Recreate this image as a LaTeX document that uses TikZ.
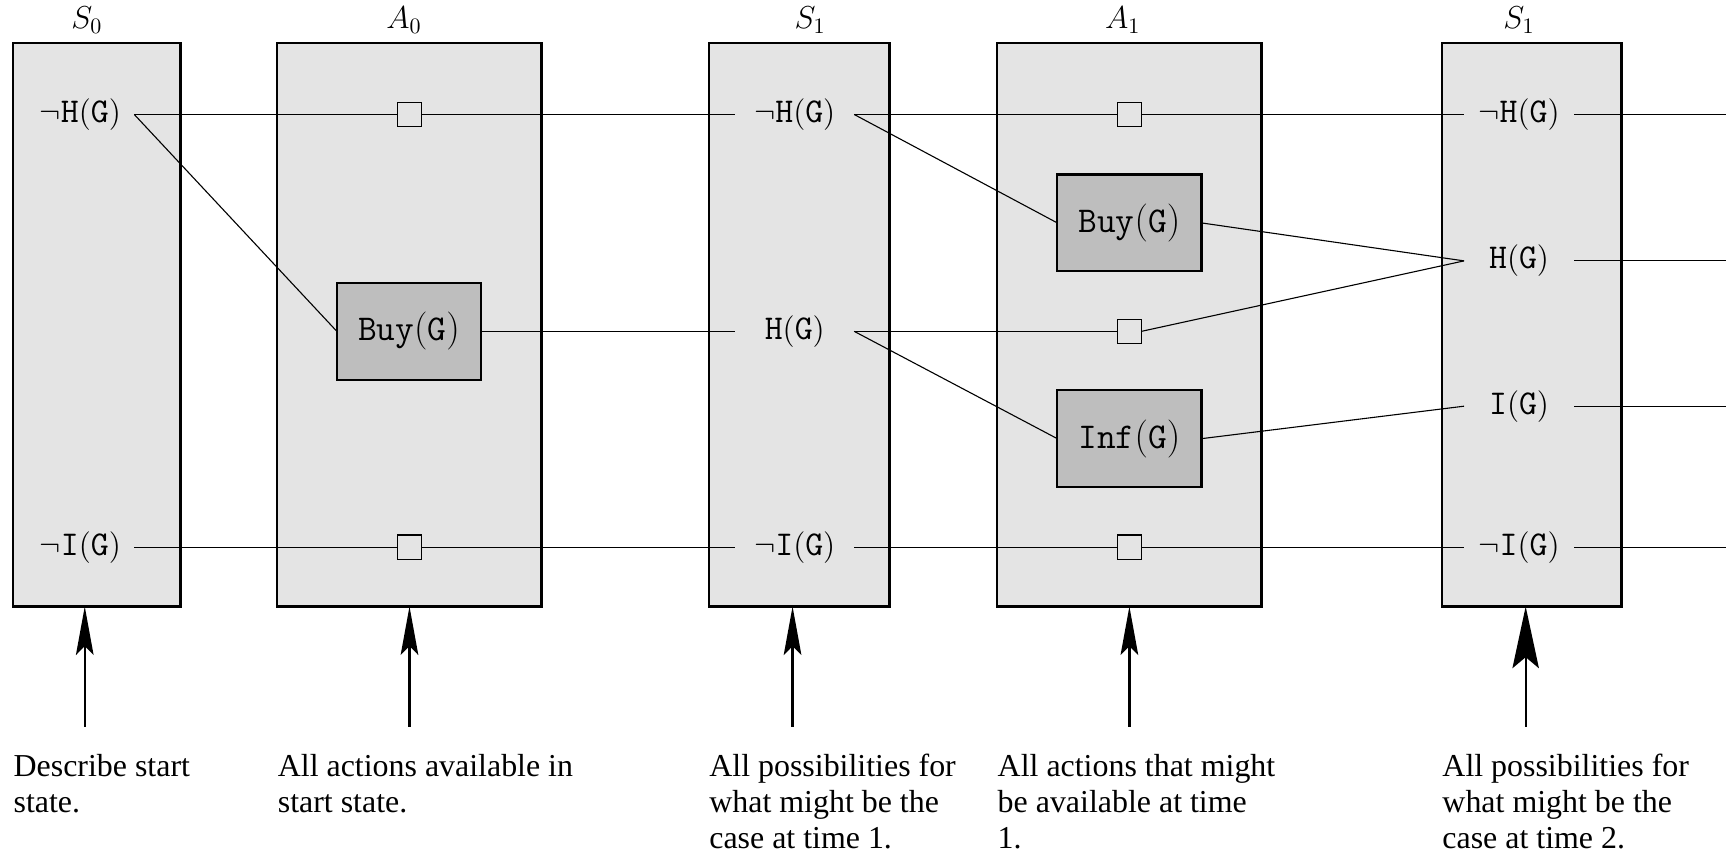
\documentclass[tikz,border=0pt]{standalone}
\usepackage{fontspec}
\setmainfont{Liberation Serif}
\usetikzlibrary{arrows.meta}
\definecolor{panelgray}{gray}{0.894}
\definecolor{actgray}{gray}{0.745}
\newcommand{\proplabfont}{\fontsize{15.8}{18}\selectfont}
\newcommand{\actlabfont}{\fontsize{16.5}{18}\selectfont}
\tikzset{
  panel/.style={draw, line width=1pt, fill=panelgray, inner sep=0pt, outer sep=0pt},
  act/.style={draw, line width=1pt, fill=actgray, minimum width=65.5pt, minimum height=44pt, inner sep=0pt, outer sep=0pt, font=\actlabfont},
  sq/.style={draw, line width=0.5pt, fill=panelgray, minimum size=11pt, inner sep=0pt, outer sep=0pt},
  prop/.style={inner sep=0pt, outer sep=0pt, font=\proplabfont},
  conn/.style={line width=0.5pt},
  hdr/.style={inner sep=0pt, font=\fontsize{14.5}{16}\selectfont},
  captxt/.style={anchor=base west, align=left, inner sep=0pt, font=\fontsize{14.5}{16.5}\selectfont},
  uparrow/.style={line width=1pt, -{Stealth[length=22pt,width=8pt,inset=4pt]}},
  bigarrow/.style={line width=1pt, -{Stealth[length=28pt,width=12pt,inset=5pt]}},
}
\begin{document}
\begin{tikzpicture}[x=0.5pt, y=-0.5pt]
\fill[white] (0,0) rectangle (1568,776);
\useasboundingbox (0,0) rectangle (1568,776);
\coordinate (edge) at (1568,0);

% panels
\node[panel, minimum width=76pt, minimum height=256pt] (P0) at (88,295) {};
\node[panel, minimum width=120pt, minimum height=256pt] (P1) at (372,295) {};
\node[panel, minimum width=82pt, minimum height=256pt] (P2) at (726,295) {};
\node[panel, minimum width=120pt, minimum height=256pt] (P3) at (1026,295) {};
\node[panel, minimum width=81.5pt, minimum height=256pt] (P4) at (1391.5,295) {};

% headers
\node[hdr] (h0) at (79,18) {$S_0$};
\node[hdr] (h1) at (367,18) {$A_0$};
\node[hdr] (h2) at (736,18) {$S_1$};
\node[hdr] (h3) at (1020,18) {$A_1$};
\node[hdr] (h4) at (1380,18) {$S_1$};

% S0 propositions
\node[prop, minimum width=49pt] (s0nh) at (73,104) {$\neg\mathtt{H}(\mathtt{G})$};
\node[prop, minimum width=49pt] (s0ni) at (73,497) {$\neg\mathtt{I}(\mathtt{G})$};

% A0
\node[act] (a0buy) at (371.5,301) {$\mathtt{Buy}(\mathtt{G})$};
\node[sq] (a0q1) at (372,104) {};
\node[sq] (a0q3) at (372,497) {};

% S1 propositions
\node[prop, minimum width=54pt] (s1nh) at (722,104) {$\neg\mathtt{H}(\mathtt{G})$\hspace{10pt}};
\node[prop, minimum width=54pt] (s1h) at (722,301) {$\mathtt{H}(\mathtt{G})$\hspace{10pt}};
\node[prop, minimum width=54pt] (s1ni) at (722,497) {$\neg\mathtt{I}(\mathtt{G})$\hspace{10pt}};

% A1
\node[act] (a1buy) at (1026,202.5) {$\mathtt{Buy}(\mathtt{G})$};
\node[act] (a1inf) at (1026,398.5) {$\mathtt{Inf}(\mathtt{G})$};
\node[sq] (a1q1) at (1026,104) {};
\node[sq] (a1q2) at (1026,301) {};
\node[sq] (a1q3) at (1026,497) {};

% S2 propositions
\node[prop, minimum width=50pt] (s2nh) at (1380,104) {$\neg\mathtt{H}(\mathtt{G})$};
\node[prop, minimum width=50pt] (s2h) at (1380,237) {$\mathtt{H}(\mathtt{G})$};
\node[prop, minimum width=50pt] (s2i) at (1380,369) {$\mathtt{I}(\mathtt{G})$};
\node[prop, minimum width=50pt] (s2ni) at (1380,497) {$\neg\mathtt{I}(\mathtt{G})$};

% connectors
\draw[conn] (s0nh.east) -- (a0q1.west) (a0q1.east) -- (s1nh.west);
\draw[conn] (s0nh.east) -- (a0buy.west);
\draw[conn] (a0buy.east) -- (s1h.west);
\draw[conn] (s0ni.east) -- (a0q3.west) (a0q3.east) -- (s1ni.west);
\draw[conn] (s1nh.east) -- (a1q1.west) (a1q1.east) -- (s2nh.west);
\draw[conn] (s1nh.east) -- (a1buy.west);
\draw[conn] (s1h.east) -- (a1q2.west);
\draw[conn] (a1q2.east) -- (s2h.west);
\draw[conn] (a1buy.east) -- (s2h.west);
\draw[conn] (s1h.east) -- (a1inf.west);
\draw[conn] (a1inf.east) -- (s2i.west);
\draw[conn] (s1ni.east) -- (a1q3.west) (a1q3.east) -- (s2ni.west);
\draw[conn] (s2nh.east) -- (s2nh.east -| edge);
\draw[conn] (s2h.east) -- (s2h.east -| edge);
\draw[conn] (s2i.east) -- (s2i.east -| edge);
\draw[conn] (s2ni.east) -- (s2ni.east -| edge);

% arrows
\coordinate (t0) at (77,660);
\coordinate (t1) at (372,660);
\coordinate (t2) at (720,660);
\coordinate (t3) at (1026,660);
\coordinate (t4) at (1386,660);
\draw[uparrow] (t0) -- (t0 |- P0.south);
\draw[uparrow] (t1) -- (t1 |- P1.south);
\draw[uparrow] (t2) -- (t2 |- P2.south);
\draw[uparrow] (t3) -- (t3 |- P3.south);
\draw[bigarrow] (t4) -- (t4 |- P4.south);

% captions (anchored at the baseline of the last line)
\node[captxt] (c0) at (12,738) {Describe start\\state.};
\node[captxt] (c1) at (252,738) {All actions available in\\start state.};
\node[captxt] (c2) at (644,771) {All possibilities for\\what might be the\\case at time 1.};
\node[captxt] (c3) at (906,771) {All actions that might\\be available at time\\1.};
\node[captxt] (c4) at (1310,771) {All possibilities for\\what might be the\\case at time 2.};
\end{tikzpicture}
\end{document}
